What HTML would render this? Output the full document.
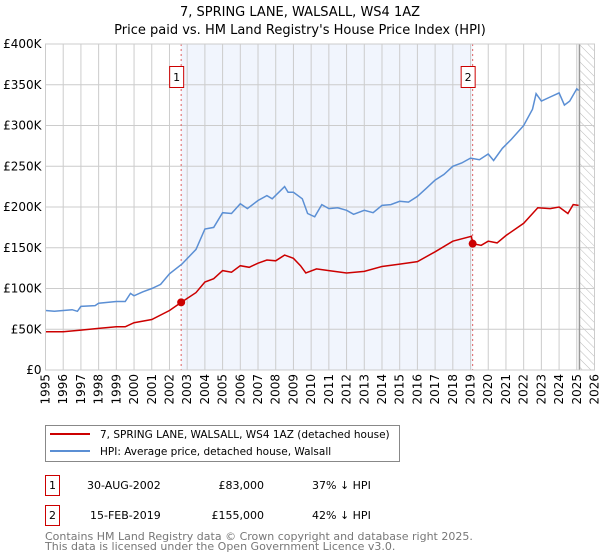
<!DOCTYPE html>
<html><head><meta charset="utf-8"><style>
body{margin:0;background:#fff;font-family:"DejaVu Sans","Liberation Sans",sans-serif;}
svg{display:block}
</style></head><body>
<svg width="600" height="560" viewBox="0 0 600 560" xmlns="http://www.w3.org/2000/svg" font-family="DejaVu Sans, Liberation Sans, sans-serif">
<defs><pattern id="hatch" width="6" height="6" patternUnits="userSpaceOnUse" patternTransform="rotate(-45)"><line x1="0" y1="0" x2="0" y2="6" stroke="#bbb" stroke-width="1"/></pattern></defs>
<g>
<text x="300" y="16" text-anchor="middle" font-size="13">7, SPRING LANE, WALSALL, WS4 1AZ</text>
<text x="300" y="34" text-anchor="middle" font-size="13">Price paid vs. HM Land Registry's House Price Index (HPI)</text>
</g>
<g id="plot"></g>
<g>
<rect x="45.5" y="425.5" width="354" height="36" fill="#fff" stroke="#888"/>
<line x1="50" y1="434" x2="90" y2="434" stroke="#cc0000" stroke-width="2"/>
<text x="100" y="438" font-size="10.5">7, SPRING LANE, WALSALL, WS4 1AZ (detached house)</text>
<line x1="50" y1="451" x2="90" y2="451" stroke="#5b8fd4" stroke-width="2"/>
<text x="100" y="455" font-size="10.5">HPI: Average price, detached house, Walsall</text>
</g>
<g font-size="11">
<rect x="45.5" y="475.5" width="14" height="20" fill="#fff" stroke="#cc0000"/>
<text x="52.5" y="489" text-anchor="middle">1</text>
<text x="87" y="489">30-AUG-2002</text>
<text x="264" y="489" text-anchor="end">£83,000</text>
<text x="312" y="489">37% ↓ HPI</text>
<rect x="45.5" y="505.5" width="14" height="20" fill="#fff" stroke="#cc0000"/>
<text x="52.5" y="519" text-anchor="middle">2</text>
<text x="90" y="519">15-FEB-2019</text>
<text x="264" y="519" text-anchor="end">£155,000</text>
<text x="312" y="519">42% ↓ HPI</text>
</g>
<g font-size="11" fill="#777">
<text x="45" y="540">Contains HM Land Registry data © Crown copyright and database right 2025.</text>
<text x="45" y="550">This data is licensed under the Open Government Licence v3.0.</text>
</g>
</svg>
<script>
const yTicks=[0,50000,100000,150000,200000,250000,300000,350000,400000];
const yTickLabels=["£0","£50K","£100K","£150K","£200K","£250K","£300K","£350K","£400K"];
const xYears=[1995,1996,1997,1998,1999,2000,2001,2002,2003,2004,2005,2006,2007,2008,2009,2010,2011,2012,2013,2014,2015,2016,2017,2018,2019,2020,2021,2022,2023,2024,2025,2026];
const hpiX=[1995,1995.5,1996,1996.5,1996.8,1997,1997.8,1998,1999,1999.5,1999.8,2000,2000.5,2001,2001.5,2002,2002.7,2003.5,2004,2004.5,2005,2005.5,2006,2006.4,2007,2007.5,2007.8,2008.5,2008.7,2009,2009.5,2009.8,2010.2,2010.6,2011,2011.5,2012,2012.4,2013,2013.5,2014,2014.5,2015,2015.5,2016,2016.5,2017,2017.5,2018,2018.5,2019,2019.5,2020,2020.3,2020.8,2021.3,2022,2022.5,2022.7,2023,2023.5,2024,2024.3,2024.6,2025,2025.1];
const hpiY=[73000,72000,73000,74000,72000,78000,79000,82000,84000,84000,94000,91000,96000,100000,105000,118000,130000,148000,173000,175000,193000,192000,204000,198000,208000,214000,210000,225000,218000,218000,210000,192000,188000,203000,198000,199000,196000,191000,196000,193000,202000,203000,207000,206000,213000,223000,233000,240000,250000,254000,260000,258000,265000,257000,272000,283000,300000,320000,339000,330000,335000,340000,325000,330000,345000,343000];
const ppX=[1995,1996,1997,1998,1999,1999.5,2000,2001,2002,2002.66,2003.5,2004,2004.5,2005,2005.5,2006,2006.5,2007,2007.5,2008,2008.5,2009,2009.4,2009.7,2010.3,2011,2012,2013,2014,2015,2016,2017,2018,2019.05,2019.12,2019.6,2020,2020.5,2021,2022,2022.8,2023.5,2024,2024.5,2024.8,2025.1];
const ppY=[47000,47000,49000,51000,53000,53000,58000,62000,73000,83000,95000,108000,112000,122000,120000,128000,126000,131000,135000,134000,141000,137000,128000,119000,124000,122000,119000,121000,127000,130000,133000,145000,158000,164000,155000,153000,158000,156000,165000,180000,199000,198000,200000,192000,203000,202000];
const saleX=[2002.66,2019.12];
const saleY=[83000,155000];
const saleLabels=["1","2"];

const L=45.5,R=594.5,T=44,B=370;
const x0=1995,x1=2026,yMax=400000;
const sx=v=>L+(v-x0)/(x1-x0)*(R-L);
const sy=v=>B-v/yMax*(B-T);
const NS="http://www.w3.org/2000/svg";
const plot=document.getElementById('plot');
function mk(tag,attrs,parent){const e=document.createElementNS(NS,tag);for(const k in attrs)e.setAttribute(k,attrs[k]);(parent||plot).appendChild(e);return e;}

const shade=mk('rect',{x:sx(saleX[0]),y:T,width:sx(saleX[1])-sx(saleX[0]),height:B-T,fill:'#eef3fd',opacity:0.8});


const hatch=mk('rect',{x:sx(2025.15),y:T,width:R-sx(2025.15),height:B-T,fill:'url(#hatch)'});



const grid=mk('g',{});


xYears.forEach(y=>{mk('line',{x1:sx(y),x2:sx(y),y1:T,y2:B,stroke:'#ccc','stroke-width':1},grid);});
yTicks.forEach(v=>{mk('line',{x1:L,x2:R,y1:sy(v),y2:sy(v),stroke:'#ccc','stroke-width':1},grid);});
mk('line',{x1:sx(2025.15),x2:sx(2025.15),y1:T,y2:B,stroke:'#999','stroke-width':1.5},grid);

const yAxis=mk('g',{'font-size':12,'text-anchor':'end'});


yTicks.forEach((v,i)=>{const t=mk('text',{x:L-4,y:sy(v)+4},yAxis);t.textContent=yTickLabels[i];});
const xAxis=mk('g',{'font-size':12,'text-anchor':'end'});


xYears.forEach(y=>{const t=mk('text',{x:0,y:0,transform:`translate(${sx(y)+4},${B+4}) rotate(-90)`},xAxis);t.textContent=String(y);});

saleX.forEach((v,i)=>{
  const ln=mk('line',{x1:sx(v),x2:sx(v),y1:T,y2:B,stroke:'#e06060','stroke-width':1,'stroke-dasharray':'2,3'});
  
  
});

function path(xs,ys){return xs.map((x,i)=>(i?'L':'M')+sx(x).toFixed(1)+','+sy(ys[i]).toFixed(1)).join('');}
const hl=mk('path',{d:path(hpiX,hpiY),fill:'none',stroke:'#5b8fd4','stroke-width':1.5});


const pl=mk('path',{d:path(ppX,ppY),fill:'none',stroke:'#cc0000','stroke-width':1.5});



saleX.forEach((v,i)=>{
  const c=mk('circle',{cx:sx(v),cy:sy(saleY[i]),r:4,fill:'#cc0000'});
  
  
  const g=mk('g',{});
  
  
  mk('rect',{x:sx(v)-11.5,y:66.5,width:14,height:21,fill:'#fff',stroke:'#cc0000'},g);
  const t=mk('text',{x:sx(v)-4.5,y:81,'font-size':11,'text-anchor':'middle'},g);t.textContent=saleLabels[i];
});
mk('rect',{x:L,y:T,width:R-L,height:B-T,fill:'none',stroke:'#ccc'});
</script>
</body></html>
